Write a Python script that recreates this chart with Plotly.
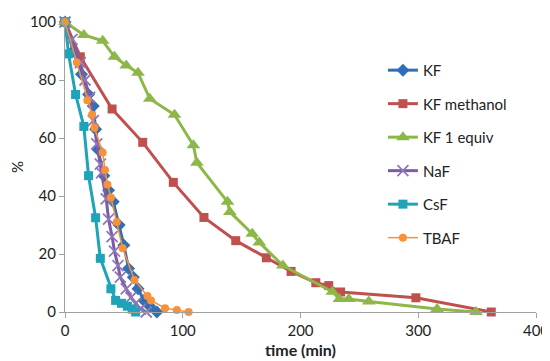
import plotly.graph_objects as go

kf_t = [0, 7, 14, 20, 24, 26, 28, 33, 37, 41, 46, 50, 54, 58, 62, 67, 72, 78]
kf_v = [100, 90, 82, 75, 71, 63, 56, 47, 42, 38, 30, 23, 15, 12, 8, 4, 2, 0]

kfm_t = [0, 13, 40, 66, 92, 118, 145, 171, 192, 213, 224, 234, 298, 362]
kfm_v = [100, 88, 70, 58.5, 44.7, 32.6, 24.6, 18.7, 14, 10.1, 9.1, 6.9, 4.9, 0]

kf1_t = [0, 16, 32, 42, 52, 62, 72, 93, 109, 112, 138, 140, 159, 165, 185, 227, 233, 241, 258, 316, 349]
kf1_v = [100, 95.5, 93.5, 88, 85, 82.5, 73.5, 68, 57.5, 51.5, 38, 34.5, 27, 24, 16, 7, 4.5, 4.5, 3.6, 1, 0]

naf_t = [0, 6, 13, 17, 21, 24, 27, 30, 31, 35, 37, 40, 42, 45, 47, 52, 56, 60, 64, 69]
naf_v = [100, 94, 86, 80, 74, 66, 58, 51, 48, 39, 32, 26, 21, 16, 12, 8, 5, 3, 1, 0]

csf_t = [0, 3, 9, 16, 20, 26, 30, 39, 43, 48, 53, 57, 60]
csf_v = [100, 89, 75, 64, 47, 32.5, 18.5, 8, 4, 3, 2, 1, 0]

tbaf_t = [0, 10, 19, 23, 25, 32, 34, 36, 39, 44, 49, 59, 70, 73, 85, 95, 105]
tbaf_v = [100, 86, 73, 68, 63.5, 55, 49, 44, 39.5, 31, 22, 11, 5.5, 4, 1.3, 0.7, 0]

x_ticks = [0, 100, 200, 300, 400]
y_ticks = [0, 20, 40, 60, 80, 100]

FONT = "Lato, Noto Sans, sans-serif"

fig = go.Figure()
series = [
    ("KF", kf_t, kf_v, "#2F6FB6", "diamond", 10, 3, None),
    ("KF methanol", kfm_t, kfm_v, "#C0504D", "square", 9, 3, None),
    ("KF 1 equiv", kf1_t, kf1_v, "#8DB849", "triangle-up", 12, 3, None),
    ("NaF", naf_t, naf_v, "#7D5BA6", "x-thin", 11, 3, "#8F77B8"),
    ("CsF", csf_t, csf_v, "#1FA3B8", "square", 9, 3, None),
    ("TBAF", tbaf_t, tbaf_v, "#F7923A", "circle", 8, 1.5, None),
]
for i, (name, t, v, col, sym, size, lw, mlc) in enumerate(series):
    marker = dict(symbol=sym, size=size, color=col)
    if sym == "x-thin":
        marker["line"] = dict(color=mlc, width=1.8)
    fig.add_trace(go.Scatter(
        x=t, y=v, name=name, mode="lines+markers",
        line=dict(color=col, width=lw), marker=marker,
        cliponaxis=False, legendgroup=name,
    ))

# page body has an 8px default margin, so the figure is sized to fit the 550x361 window
fig.update_layout(
    width=542, height=353,
    margin=dict(l=57, r=14, t=14, b=49),
    paper_bgcolor="white", plot_bgcolor="white",
    font=dict(family=FONT, size=15, color="#222"),
    legend=dict(x=0.675, y=0.89, xanchor="left", yanchor="top",
                bgcolor="rgba(0,0,0,0)", tracegroupgap=11,
                font=dict(size=15, family=FONT, color="#222")),
    xaxis=dict(range=[0, 400], tickvals=x_ticks, showgrid=False, zeroline=False,
               showline=True, linecolor="#A0A0A0", linewidth=1, automargin=False,
               ticks="outside", ticklen=5, tickcolor="#A0A0A0",
               title=dict(text="<b>time (min)</b>", standoff=6, font=dict(size=16))),
    yaxis=dict(range=[0, 100], tickvals=y_ticks, showgrid=False, zeroline=False,
               showline=True, linecolor="#A0A0A0", linewidth=1, automargin=False,
               ticks="outside", ticklen=5, tickcolor="#A0A0A0",
               title=dict(text="%", standoff=12, font=dict(size=15))),
)

fig.write_html("out.html")
